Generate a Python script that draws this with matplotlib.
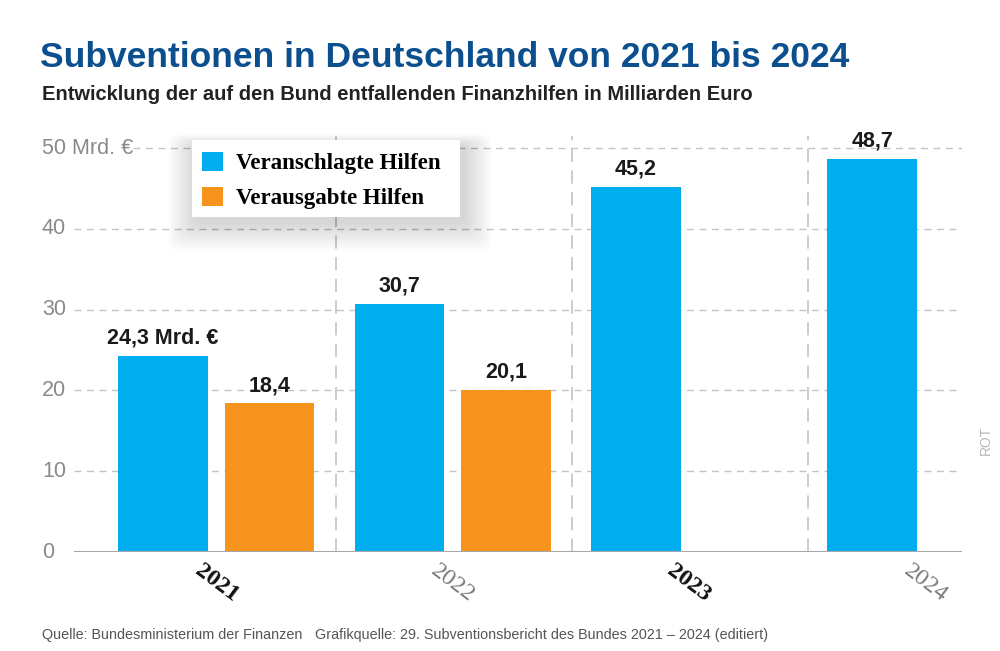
import matplotlib
matplotlib.use("Agg")
import matplotlib.pyplot as plt
from matplotlib.patches import Patch, FancyBboxPatch
from matplotlib.transforms import blended_transform_factory

# ── Data ───────────────────────────────────────────────────────────────
years = ["2021", "2022", "2023", "2024"]
veranschlagt = [24.3, 30.7, 45.2, 48.7]
verausgabt = [18.4, 20.1]
veranschlagt_labels = ["24,3 Mrd. €", "30,7", "45,2", "48,7"]
verausgabt_labels = ["18,4", "20,1"]
y_ticks = [0, 10, 20, 30, 40, 50]
y_tick_labels = ["0", "10", "20", "30", "40", "50 Mrd. €"]

BLUE = "#00aeef"
ORANGE = "#f7941d"
TITLE_BLUE = "#0b4f8f"
GRID = "#c4c4c4"
TICK_GRAY = "#8a8a8a"

SANS = ["Liberation Sans", "DejaVu Sans"]
SERIF = ["Liberation Serif", "DejaVu Serif"]

fig = plt.figure(figsize=(10, 6.51), dpi=100)
ax = fig.add_axes([0.074, 0.152, 0.888, 0.639])
ax.set_xlim(-0.377, 3.38)
ax.set_ylim(0, 51.5)
for s in ax.spines.values():
    s.set_visible(False)
ax.set_xticks([])
ax.set_yticks([])

width = 0.38
offset = 0.45

# ── Grid ───────────────────────────────────────────────────────────────
for t in y_ticks[1:]:
    xmin = 0.066 if t == 50 else 0.0
    ax.axhline(t, xmin=xmin, xmax=1.0, color=GRID, lw=1, ls=(0, (5, 4)), zorder=0)
ax.axhline(0, color="#a8a8a8", lw=1.5, zorder=3)
for i in range(len(years) - 1):
    ax.axvline(i + 0.73, ymin=0, ymax=1, color=GRID, lw=1.2, ls=(0, (8, 5)), zorder=0)

# ── Bars ───────────────────────────────────────────────────────────────
xb = list(range(len(veranschlagt)))
xo = [i + offset for i in range(len(verausgabt))]
ax.bar(xb, veranschlagt, width=width, color=BLUE, zorder=2)
ax.bar(xo, verausgabt, width=width, color=ORANGE, zorder=2)

for x, v, lab in zip(xb, veranschlagt, veranschlagt_labels):
    ax.text(x, v + 0.9, lab, ha="center", va="bottom", fontsize=15.5,
            fontweight="bold", family=SANS, color="#1a1a1a")
for x, v, lab in zip(xo, verausgabt, verausgabt_labels):
    ax.text(x, v + 0.9, lab, ha="center", va="bottom", fontsize=15.5,
            fontweight="bold", family=SANS, color="#1a1a1a")

# ── Y tick labels ──────────────────────────────────────────────────────
trans = blended_transform_factory(fig.transFigure, ax.transData)
for t, lab in zip(y_ticks, y_tick_labels):
    fig.text(0.042, t, lab, transform=trans, ha="left", va="center",
             fontsize=15.5, family=SANS, color=TICK_GRAY)

# ── Year labels ────────────────────────────────────────────────────────
for i, yr in enumerate(years):
    bold = i % 2 == 0
    ax.text(i + offset / 2, -3.9, yr, rotation=-37, ha="center", va="center",
            fontsize=17.5, family=SERIF, fontweight="bold" if bold else "normal",
            color="#111111" if bold else "#7a7a7a", clip_on=False)

# ── Legend with soft shadow ────────────────────────────────────────────
bx, by, bw, bh = 0.192, 1 - 217 / 651, 0.268, 77 / 651
n_layers = 20
for k in range(n_layers):
    grow = (n_layers - k) * 0.0014
    fig.patches.append(FancyBboxPatch(
        (bx - grow + 0.004, by - grow * 1.6 - 0.008),
        bw + 2 * grow, bh + 2.2 * grow,
        boxstyle="round,pad=0,rounding_size=0.012", transform=fig.transFigure,
        facecolor="black", edgecolor="none", alpha=0.0075, zorder=4))
fig.patches.append(FancyBboxPatch(
    (bx, by), bw, bh,
    boxstyle="square,pad=0", transform=fig.transFigure,
    facecolor="white", edgecolor="none", zorder=5))
handles = [Patch(facecolor=BLUE, label="Veranschlagte Hilfen"),
           Patch(facecolor=ORANGE, label="Verausgabte Hilfen")]
leg = fig.legend(handles=handles, loc="upper left", bbox_to_anchor=(0.202, 0.767),
                 frameon=False, borderpad=0, borderaxespad=0,
                 handlelength=0.92, handleheight=0.92,
                 handletextpad=0.55, labelspacing=0.55,
                 prop={"family": SERIF, "weight": "bold", "size": 16.5})
leg.set_zorder(6)

# ── Titles and footer ──────────────────────────────────────────────────
fig.text(0.040, 0.897, "Subventionen in Deutschland von 2021 bis 2024",
         fontsize=25.5, fontweight="bold", family=SANS, color=TITLE_BLUE,
         ha="left", va="baseline")
fig.text(0.042, 0.846, "Entwicklung der auf den Bund entfallenden Finanzhilfen in Milliarden Euro",
         fontsize=14.5, fontweight="bold", family=SANS, color="#222222",
         ha="left", va="baseline")
fig.text(0.042, 0.019, "Quelle: Bundesministerium der Finanzen",
         fontsize=10.4, family=SANS, color="#555555", ha="left", va="baseline")
fig.text(0.315, 0.019, "Grafikquelle: 29. Subventionsbericht des Bundes 2021 – 2024 (editiert)",
         fontsize=10.4, family=SANS, color="#555555", ha="left", va="baseline")
fig.text(0.986, 0.323, "ROT", rotation=90, fontsize=10, family=SANS,
         color="#b8b8b8", ha="center", va="center")

fig.savefig("out.png", dpi=100, facecolor="white")
